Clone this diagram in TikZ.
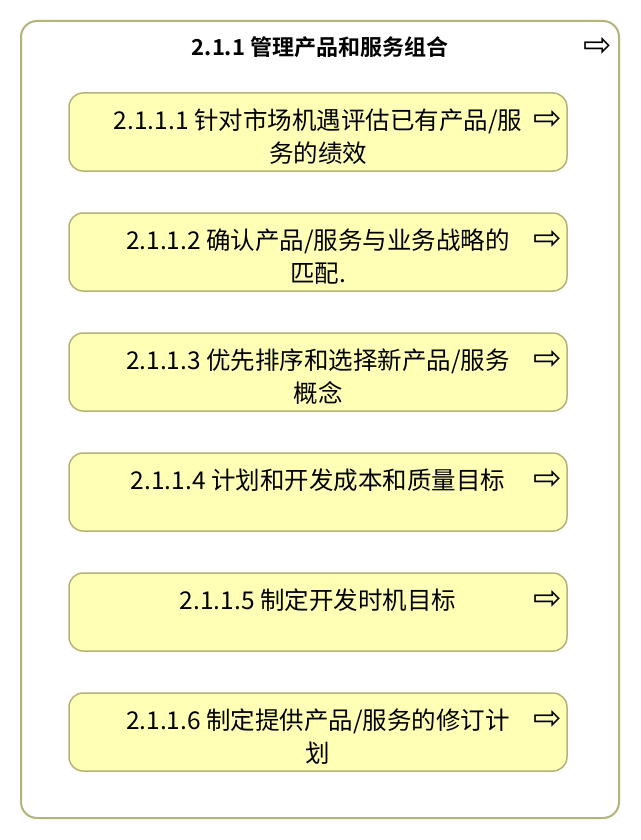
\documentclass[tikz,border=0pt]{standalone}
\usepackage{fontspec}
\newfontfamily\cjk{Noto Sans CJK SC}[BoldFont={Noto Sans CJK SC Bold}]
\newfontfamily\sym{DejaVu Sans}
\definecolor{taskfill}{HTML}{FFFFB5}
\definecolor{taskline}{HTML}{B3B37A}
\begin{document}
\begin{tikzpicture}[x=1pt,y=-1pt,
    task/.style={draw=taskline,fill=taskfill,line width=1.5pt,rounded corners=14pt,
      minimum width=498pt,minimum height=78pt,inner sep=0pt},
    tasktext/.style={font=\cjk\fontsize{24.5}{33}\selectfont,align=center,anchor=north,inner sep=0pt},
    goto/.style={font=\sym\fontsize{34}{34}\selectfont,inner sep=0pt}]
  \useasboundingbox (0,0) rectangle (640,840);
  \node (frame) [draw=taskline,fill=white,line width=2pt,rounded corners=16pt,
    minimum width=598pt,minimum height=797pt] at (320,419.5) {};
  \node (title) at (320,47) {\cjk\fontsize{22}{22}\selectfont\bfseries 2.1.1 管理产品和服务组合};
  \node (titlego) [goto] at (598,47) {⇨};
  \draw
    (318,132) node[task] (t1){}
    (318,252) node[task] (t2){}
    (318,372) node[task] (t3){}
    (318,492) node[task] (t4){}
    (318,612) node[task] (t5){}
    (318,732) node[task] (t6){};
  \begin{scope}[tasktext]
    \node (l1) at ([yshift=-16]t1.north) {2.1.1.1 针对市场机遇评估已有产品/服\\务的绩效};
    \node (l2) at ([yshift=-16]t2.north) {2.1.1.2 确认产品/服务与业务战略的\\匹配.};
    \node (l3) at ([yshift=-16]t3.north) {2.1.1.3 优先排序和选择新产品/服务\\概念};
    \node (l4) at ([yshift=-16]t4.north) {2.1.1.4 计划和开发成本和质量目标};
    \node (l5) at ([yshift=-16]t5.north) {2.1.1.5 制定开发时机目标};
    \node (l6) at ([yshift=-16]t6.north) {2.1.1.6 制定提供产品/服务的修订计\\划};
  \end{scope}
  \begin{scope}[goto]
    \node (g1) at ([xshift=-20,yshift=-28]t1.north east) {⇨};
    \node (g2) at ([xshift=-20,yshift=-28]t2.north east) {⇨};
    \node (g3) at ([xshift=-20,yshift=-28]t3.north east) {⇨};
    \node (g4) at ([xshift=-20,yshift=-28]t4.north east) {⇨};
    \node (g5) at ([xshift=-20,yshift=-28]t5.north east) {⇨};
    \node (g6) at ([xshift=-20,yshift=-28]t6.north east) {⇨};
  \end{scope}
\end{tikzpicture}
\end{document}
